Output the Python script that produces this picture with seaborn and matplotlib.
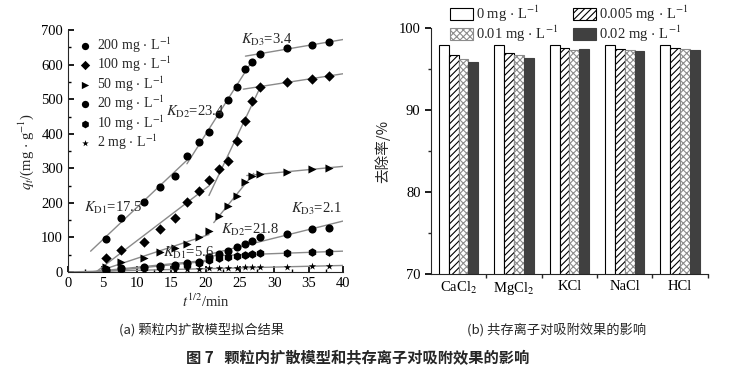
import numpy as np
import pandas as pd
import matplotlib
matplotlib.use("Agg")
import matplotlib.pyplot as plt
from matplotlib.ticker import MultipleLocator
import seaborn as sns

# ---- data (a): intraparticle diffusion, x = t^(1/2)
x_sqrt = [5.5, 7.7, 11.0, 13.4, 15.5, 17.3, 19.0, 20.5, 21.9, 23.2, 24.5, 25.7, 26.8, 27.9, 31.9, 35.5, 37.9]
q_200 = [95, 157, 202, 246, 277, 336, 375, 404, 456, 499, 536, 587, 608, 630, 649, 657, 665]
q_100 = [39, 63, 87, 123, 157, 203, 235, 266, 297, 321, 379, 437, 494, 536, 550, 560, 567]
q_50 = [14, 29, 40, 57, 70, 80, 100, 120, 162, 190, 220, 260, 278, 283, 290, 297, 302]
q_20 = [7, 10, 15, 18, 21, 25, 30, 42, 52, 62, 72, 80, 90, 100, 111, 123, 128]
q_10 = [5, 8, 12, 15, 17, 20, 26, 35, 41, 44, 46, 49, 52, 55, 56, 57, 57]
q_2 = [2, 3, 5, 6, 7, 8, 9, 10, 11, 12, 12, 13, 13, 14, 15, 16, 16]
unit = " mg$\\,\\cdot\\,$L$^{-1}$"
labels_a = ["200" + unit, "100" + unit, "50" + unit, "20" + unit, "10" + unit, "2" + unit]

# fitted segments: (series, first idx, last idx, draw from, draw to)
segments = [
    (q_200, 0, 5, 3.3, 17.3), (q_200, 6, 12, 17.3, 26.8), (q_200, 13, 16, 25.8, 40),
    (q_100, 0, 7, 3.8, 20.5), (q_100, 8, 13, 20.5, 27.9), (q_100, 13, 16, 25.5, 40),
    (q_50, 0, 7, 4.0, 20.5), (q_50, 8, 12, 21.2, 27.0), (q_50, 13, 16, 26.0, 40),
    (q_20, 0, 7, 0, 21), (q_20, 7, 16, 20, 40),
    (q_10, 0, 8, 0, 21), (q_10, 10, 16, 20, 40),
    (q_2, 0, 16, 0, 40),
]

# ---- data (b): coexisting ions
salts = ["CaCl$_2$", "MgCl$_2$", "KCl", "NaCl", "HCl"]
conc_labels = ["0" + unit, "0.005" + unit, "0.01" + unit, "0.02" + unit]
r_0 = [98.0, 98.0, 98.0, 98.0, 98.0]
r_005 = [96.8, 96.95, 97.55, 97.5, 97.55]
r_01 = [96.2, 96.8, 97.4, 97.4, 97.5]
r_02 = [95.85, 96.4, 97.5, 97.2, 97.3]

sns.set_theme(style="ticks")
plt.rcParams["font.family"] = ["Liberation Serif", "Noto Sans CJK SC"]
plt.rcParams["mathtext.fontset"] = "stix"
plt.rcParams["axes.linewidth"] = 0.8
plt.rcParams["hatch.linewidth"] = 0.8

fig = plt.figure(figsize=(7.38, 3.68), dpi=100)
ax1 = fig.add_axes([0.092, 0.261, 0.373, 0.657])
ax2 = fig.add_axes([0.584, 0.255, 0.375, 0.668])

# ---- (a)
for seg in segments:
    ys, i0, i1, xa, xb = seg
    k, b = np.polyfit(x_sqrt[i0:i1 + 1], ys[i0:i1 + 1], 1)
    xx = np.array([xa, xb])
    ax1.plot(xx, k * xx + b, color="#8a8a8a", lw=1, zorder=1)

markers = ["o", "D", ">", "o", "h", "*"]
sizes = [34, 28, 34, 34, 38, 30]
for ys, m, s, lab in zip([q_200, q_100, q_50, q_20, q_10, q_2], markers, sizes, labels_a):
    sns.scatterplot(x=x_sqrt, y=ys, marker=m, s=s, color="black", edgecolor="black",
                    linewidth=0, label=lab, ax=ax1, zorder=3)

ax1.set_xlim(0, 40)
ax1.set_ylim(0, 700)
ax1.xaxis.set_major_locator(MultipleLocator(5))
ax1.xaxis.set_minor_locator(MultipleLocator(2.5))
ax1.yaxis.set_major_locator(MultipleLocator(100))
ax1.yaxis.set_minor_locator(MultipleLocator(50))
ax1.tick_params(which="both", direction="in", labelsize=10.5, colors="black")
ax1.tick_params(which="major", length=4)
ax1.tick_params(which="minor", length=2)
ax1.set_xlabel("$t^{1/2}$/min", fontsize=10.5, labelpad=2)
ax1.set_ylabel("$q_t$/(mg$\\,\\cdot\\,$g$^{-1}$)", fontsize=10.5, labelpad=4)
sns.despine(ax=ax1)
ax1.legend(loc="upper left", bbox_to_anchor=(0.0, 1.02), frameon=False, fontsize=10,
           handlelength=1.0, handletextpad=0.4, labelspacing=0.0, borderaxespad=0.3,
           markerscale=0.9)

ax1.text(2.3, 184, "$K_{\\mathrm{D1}}$=17.5", fontsize=10.5, va="center")
ax1.text(14.2, 462, "$K_{\\mathrm{D2}}$=23.4", fontsize=10.5, va="center")
ax1.text(25.1, 671, "$K_{\\mathrm{D3}}$=3.4", fontsize=10.5, va="center")
ax1.text(22.2, 123, "$K_{\\mathrm{D2}}$=21.8", fontsize=10.5, va="center")
ax1.text(13.8, 54, "$K_{\\mathrm{D1}}$=5.6", fontsize=10.5, va="center")
ax1.text(32.4, 181, "$K_{\\mathrm{D3}}$=2.1", fontsize=10.5, va="center")

# ---- (b)
df = pd.DataFrame({
    "salt": salts * 4,
    "conc": np.repeat(conc_labels, len(salts)),
    "value": r_0 + r_005 + r_01 + r_02,
})
sns.barplot(data=df, x="salt", y="value", hue="conc", palette=["white", "white", "white", "#404040"],
            width=0.71, edgecolor="black", linewidth=0.8, legend=False, ax=ax2)
styles = [("", "black"), ("/////", "black"), ("xxxxx", "#8c8c8c"), ("", "#404040")]
for cont, (h, ec) in zip(ax2.containers, styles):
    for p in cont.patches:
        p.set_hatch(h)
        p.set_edgecolor(ec)
ax2.set_ylim(70, 100)
ax2.set_xlim(-0.5, 4.5)
ax2.yaxis.set_major_locator(MultipleLocator(10))
ax2.yaxis.set_minor_locator(MultipleLocator(5))
ax2.set_xticks(range(5))
ax2.set_xticklabels(salts)
ax2.set_xticks(np.arange(0.5, 5, 1), minor=True)
ax2.tick_params(axis="x", which="major", length=0, labelsize=10.5, colors="black", pad=4)
ax2.tick_params(axis="x", which="minor", length=3, direction="out")
ax2.tick_params(axis="y", which="major", length=4, direction="out", labelsize=10.5, colors="black")
ax2.tick_params(axis="y", which="minor", length=2, direction="out")
ax2.set_xlabel("")
ax2.set_ylabel("去除率/%", fontsize=10.5, family=["Noto Sans CJK SC"], labelpad=6)
sns.despine(ax=ax2)

handles = [ax2.containers[i].patches[0] for i in [0, 2, 1, 3]]
ax2.legend(handles, [conc_labels[i] for i in [0, 2, 1, 3]], ncol=2, loc="upper center",
           bbox_to_anchor=(0.5, 1.155), frameon=False, fontsize=10.5, handlelength=1.6,
           handleheight=0.9, handletextpad=0.2, columnspacing=1.0, labelspacing=0.0)

# captions
fig.text(0.273, 0.103, "(a) 颗粒内扩散模型拟合结果", ha="center", va="center", fontsize=9.5,
         family=["Noto Sans CJK SC"])
fig.text(0.633, 0.103, "(b) 共存离子对吸附效果的影响", ha="left", va="center", fontsize=9.5,
         family=["Noto Sans CJK SC"])
fig.text(0.485, 0.027, "图 7   颗粒内扩散模型和共存离子对吸附效果的影响", ha="center", va="center",
         fontsize=11, fontweight="bold", family=["Noto Sans CJK SC"])

fig.savefig("out.png", dpi=100)
